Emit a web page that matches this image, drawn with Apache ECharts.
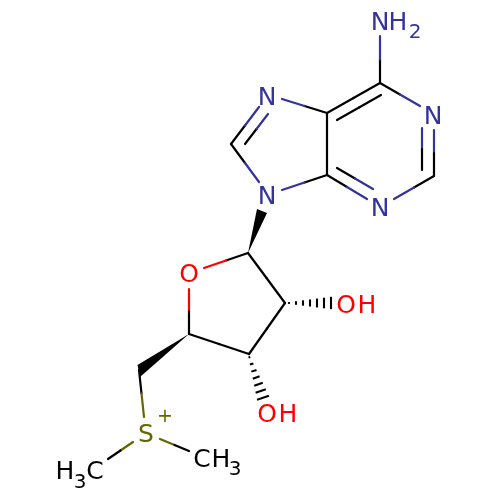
<!DOCTYPE html>
<html>
<head>
<meta charset="utf-8">
<style>html,body{margin:0;padding:0;background:#fff}#c{width:500px;height:500px}</style>
<script src="https://cdn.jsdelivr.net/npm/echarts@6/dist/echarts.min.js"></script>
</head>
<body>
<div id="c"></div>
<script>
// Bond segments: x1, y1, x2, y2, element at start, element at end
const ringBonds = [
  [380,83,380,36,'C','N'],
  [380,83,420,106,'C','N'],
  [434,130,434,176,'N','C'],
  [422,128,422,170,'N','C'],
  [434,176,394,199,'C','N'],
  [327,175,367,199,'C','N'],
  [337,168,373,189,'C','N'],
  [327,175,282,190,'C','N'],
  [327,113,282,99,'C','N'],
  [327,113,327,175,'C','C'],
  [327,113,380,83,'C','C'],
  [337,120,381,95,'C','C'],
  [231,144,259,107,'C','N'],
  [245,144,268,114,'C','N'],
  [231,144,259,182,'C','N']
];
const sugarBonds = [
  [248,253,204,268,'C','O'],
  [189,289,189,334,'O','C'],
  [189,334,249,354,'C','C'],
  [249,354,285,303,'C','C'],
  [285,303,248,253,'C','C'],
  [139,370,144,417,'C','S'],
  [160,439,189,451,'S','C'],
  [133,442,108,459,'S','C']
];
// Solid wedges: tip x, y, then the two corners of the wide end
const wedges = [
  [248,253,257,209,267,213],
  [189,334,137.5,365,140,377]
];
// Hashed wedges: first-tick x, y, last-tick x, y, tick count, last half-length
const hashes = [
  [289,303,331,303,7,6.2],
  [249.4,357.3,263,397.7,7,6.3]
];
// Atom label pieces
const labelText = ['N','H','2','N','N','N','N','O','O','H','O','H','S','+','H','3','C','C','H','3'];
const labelX    = [380,398,415,433,380,267,267,189,346,367,267,288,146,165,65,80,95,202,221,235];
const labelY    = [23,23,33,117,209,98,197,275,306,306,415,415,435,417,472,483,472,460,460,470];
const labelElem = ['N','N','N','N','N','N','N','O','O','O','O','O','S','S','C','C','C','C','C','C'];
const labelSize = [25,25,20,25,25,25,25,25,25,25,25,25,25,19,25,20,25,25,25,20];

const elementColor = {C:'#000000', N:'#333399', O:'#ff0000', S:'#666600'};
const LW = 2.2;

function renderBond(params, api) {
  const b = params.context.rows[params.dataIndex];
  const p = api.coord([b[0], b[1]]), q = api.coord([b[2], b[3]]);
  const m = [(p[0]+q[0])/2, (p[1]+q[1])/2];
  const seg = (a, c, el) => ({type:'line', shape:{x1:a[0],y1:a[1],x2:c[0],y2:c[1]},
    style:{stroke:elementColor[el], lineWidth:LW, lineCap:'round'}});
  return {type:'group', children:[seg(p,m,b[4]), seg(m,q,b[5])]};
}
function makeBondSeries(rows) {
  return {type:'custom', coordinateSystem:'cartesian2d', silent:true, clip:false,
    data: rows.map(r => [r[0], r[1]]),
    renderItem:(params, api)=>{ params.context.rows = rows; return renderBond(params, api); }};
}
const wedgeSeries = {type:'custom', coordinateSystem:'cartesian2d', silent:true, clip:false,
  data: wedges.map(w => [w[0], w[1]]),
  renderItem:(params, api)=>{
    const w = wedges[params.dataIndex];
    const pts = [api.coord([w[0],w[1]]), api.coord([w[2],w[3]]), api.coord([w[4],w[5]])];
    return {type:'polygon', shape:{points:pts}, style:{fill:'#000'}};
  }};
const hashSeries = {type:'custom', coordinateSystem:'cartesian2d', silent:true, clip:false,
  data: hashes.map(h => [h[0], h[1]]),
  renderItem:(params, api)=>{
    const h = hashes[params.dataIndex];
    const p = api.coord([h[0],h[1]]), q = api.coord([h[2],h[3]]);
    const dx=q[0]-p[0], dy=q[1]-p[1], L=Math.hypot(dx,dy), nx=-dy/L, ny=dx/L;
    const children=[];
    for (let i=0;i<h[4];i++){
      const t=i/(h[4]-1), x=p[0]+dx*t, y=p[1]+dy*t, r=0.9+(h[5]-0.9)*t;
      children.push({type:'line', shape:{x1:x-nx*r,y1:y-ny*r,x2:x+nx*r,y2:y+ny*r},
        style:{stroke:'#000', lineWidth:2.1}});
    }
    return {type:'group', children};
  }};
const labelSeries = {type:'custom', coordinateSystem:'cartesian2d', silent:true, clip:false,
  data: labelText.map((t,i)=>[labelX[i],labelY[i]]),
  renderItem:(params, api)=>{
    const i=params.dataIndex, c=api.coord([labelX[i],labelY[i]]);
    return {type:'text', style:{x:c[0], y:c[1], text:labelText[i], fill:elementColor[labelElem[i]],
      font:labelSize[i]+'px "DejaVu Sans"', align:'center', verticalAlign:'middle'}};
  }};

const chart = echarts.init(document.getElementById('c'), null, {renderer:'canvas'});
chart.setOption({
  animation:false,
  backgroundColor:'#ffffff',
  grid:{left:0,right:0,top:0,bottom:0},
  xAxis:{type:'value',min:0,max:500,show:false},
  yAxis:{type:'value',min:0,max:500,inverse:true,show:false},
  series:[makeBondSeries(ringBonds), makeBondSeries(sugarBonds), wedgeSeries, hashSeries, labelSeries]
});
</script>
</body>
</html>
